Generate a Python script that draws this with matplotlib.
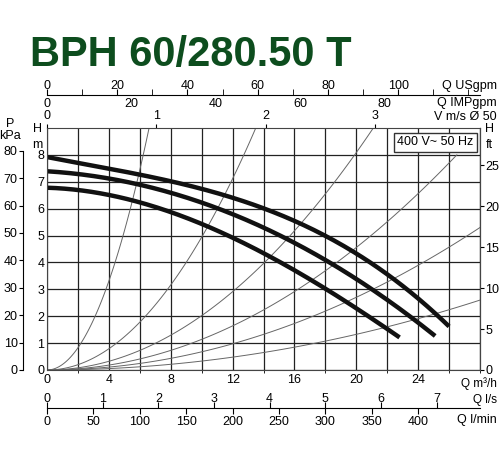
import numpy as np
import matplotlib
matplotlib.use("Agg")
import matplotlib.pyplot as plt

plt.rcParams['font.family'] = ['Liberation Sans', 'DejaVu Sans']

# pump curves, Q m3/h vs H m
q_top = [0, 4, 8, 12, 16, 20, 22, 24, 26]
h_top = [7.85, 7.6, 7.1, 6.3, 5.4, 4.3, 3.75, 2.8, 1.45]
q_mid = [0, 4, 8, 12, 16, 20, 22, 24, 25.1]
h_mid = [7.4, 7.1, 6.6, 5.8, 4.75, 3.35, 2.6, 1.8, 1.25]
q_bot = [0, 4, 8, 12, 16, 20, 22.8]
h_bot = [6.8, 6.45, 5.9, 5.0, 3.6, 2.35, 1.2]

# system curves: where each thin parabola leaves the grid (Q, H)
sys_end_q = [6.6, 13.5, 21.1, 26.5, 28, 28]
sys_end_h = [9, 9, 9, 8, 5.3, 2.6]

QMAX, HMAX = 28, 9
W, H = 500, 450
fig = plt.figure(figsize=(5, 4.5), dpi=100)
L, R, B, T = 47 / W, 480 / W, 1 - 370 / H, 1 - 128 / H
ax = fig.add_axes([L, B, R - L, T - B])
ax.set_xlim(0, QMAX)
ax.set_ylim(0, HMAX)
ax.set_xticks(np.arange(0, 25, 4))
ax.set_xticks(np.arange(0, 29, 2), minor=True)
ax.set_yticks(np.arange(0, 9, 1))
ax.grid(True, which='both', color='#222', lw=0.9)
ax.tick_params(labelsize=9, length=0, pad=3)
ax.tick_params(axis='y', pad=2)
for s in ax.spines.values():
    s.set_color('#444')

for qe, he in zip(sys_end_q, sys_end_h):
    qq = np.linspace(0, qe, 100)
    ax.plot(qq, he * (qq / qe) ** 2, color='#666', lw=0.7)

for qs, hs in [(q_top, h_top), (q_mid, h_mid), (q_bot, h_bot)]:
    qq = np.linspace(qs[0], qs[-1], 200)
    ax.plot(qq, np.polyval(np.polyfit(qs, hs, 3), qq),
            color='#111', lw=3.2, solid_capstyle='butt')

ax.text(0.985, 0.965, "400 V~ 50 Hz", transform=ax.transAxes, ha='right', va='top',
        fontsize=9, bbox=dict(boxstyle='square,pad=0.3', fc='white', ec='#333', lw=1))

# velocity axis on top
vel = ax.secondary_xaxis('top', functions=(lambda q: q / 7.07, lambda v: v * 7.07))
vel.set_xticks([0, 1, 2, 3])
vel.tick_params(labelsize=9, length=3, pad=1)
vel.spines['top'].set_visible(False)

# right ft axis
ft = ax.secondary_yaxis('right', functions=(lambda m: m * 3.281, lambda f: f / 3.281))
ft.set_yticks([0, 5, 10, 15, 20, 25])
ft.tick_params(labelsize=9, length=3, pad=1)

# left kPa axis
kpa = ax.secondary_yaxis(-0.055, functions=(lambda m: m * 9.81, lambda p: p / 9.81))
kpa.set_yticks(np.arange(0, 81, 10))
kpa.tick_params(labelsize=9, length=3, pad=1)
kpa.spines['left'].set_bounds(0, 80)

# top USgpm / IMPgpm line
g = fig.add_axes([L, 1 - 95 / H, R - L, 0.0001])
g.set_xlim(0, QMAX * 4.403)
g.set_yticks([])
for s in ['top', 'left', 'right']:
    g.spines[s].set_visible(False)
g.xaxis.set_ticks_position('bottom')
g.set_xticks(np.arange(0, 101, 20))
g.set_xticks(np.arange(0, 121, 10), minor=True)
g.tick_params(axis='x', which='both', direction='in', length=4, labelbottom=False,
              labeltop=True, top=False, labelsize=9, pad=2)
imp = g.secondary_xaxis('bottom', functions=(lambda u: u / 1.201, lambda i: i * 1.201))
imp.set_xticks(np.arange(0, 81, 20))
imp.tick_params(labelsize=9, length=0, pad=2)
imp.spines['bottom'].set_visible(False)

# bottom l/s / l/min line
b = fig.add_axes([L, 1 - 408 / H, R - L, 0.0001])
b.set_xlim(0, QMAX / 3.6)
b.set_yticks([])
for s in ['top', 'left', 'right']:
    b.spines[s].set_visible(False)
b.set_xticks(np.arange(0, 8, 1))
b.tick_params(axis='x', direction='in', length=4, labelbottom=False, labeltop=True,
              top=False, labelsize=9, pad=2)
lmin = b.secondary_xaxis('bottom', functions=(lambda s: s * 60, lambda m: m / 60))
lmin.set_xticks(np.arange(0, 401, 50))
lmin.tick_params(labelsize=9, length=4, pad=2)
lmin.spines['bottom'].set_visible(False)

fs = 9
fig.text(497 / W, 1 - 86 / H, "Q USgpm", ha='right', va='center', fontsize=fs)
fig.text(497 / W, 1 - 103 / H, "Q IMPgpm", ha='right', va='center', fontsize=fs)
fig.text(497 / W, 1 - 117 / H, "V m/s Ø 50", ha='right', va='center', fontsize=fs)
fig.text(497 / W, 1 - 384 / H, "Q m³/h", ha='right', va='center', fontsize=8.5)
fig.text(497 / W, 1 - 400 / H, "Q l/s", ha='right', va='center', fontsize=8.5)
fig.text(497 / W, 1 - 420 / H, "Q l/min", ha='right', va='center', fontsize=fs)
fig.text(10 / W, 1 - 130 / H, "P\nkPa", ha='center', va='center', fontsize=fs, linespacing=1.0)
fig.text(37 / W, 1 - 137 / H, "H\nm", ha='center', va='center', fontsize=fs, linespacing=1.4)
fig.text(489 / W, 1 - 137 / H, "H\nft", ha='center', va='center', fontsize=fs, linespacing=1.4)
fig.text(30 / W, 1 - 55 / H, "BPH 60/280.50 T", ha='left', va='center', fontsize=30,
         fontweight='bold', color='#0d4d1e')

fig.savefig("out.png", dpi=100)
